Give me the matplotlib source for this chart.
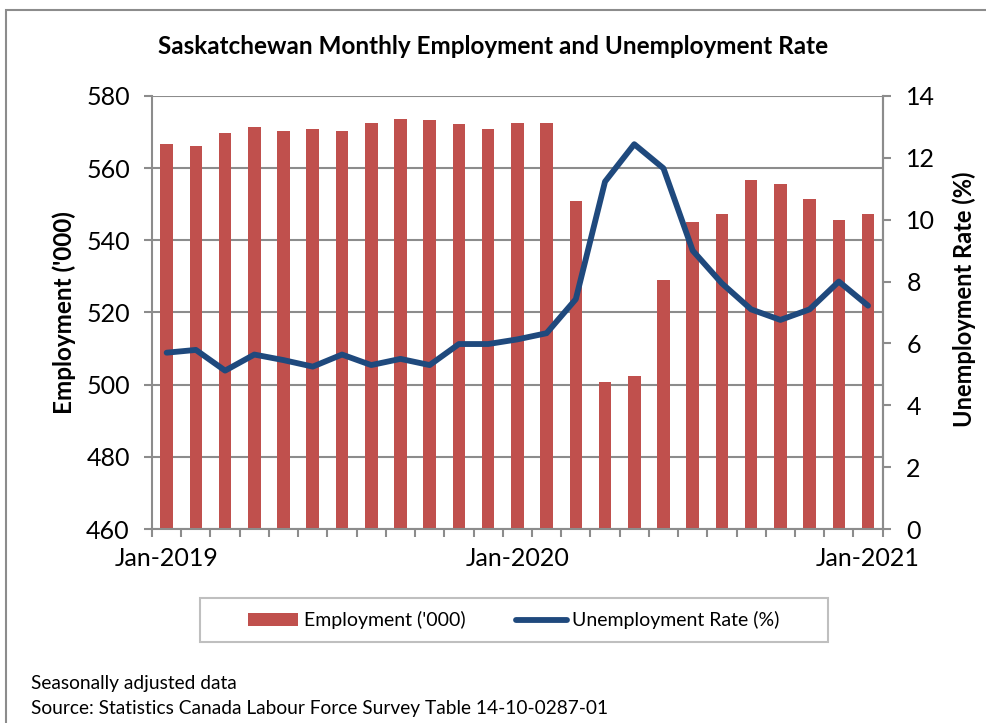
import numpy as np
import matplotlib.pyplot as plt
from matplotlib.patches import Rectangle, Patch
from matplotlib.lines import Line2D

plt.rcParams['font.family'] = ['Lato', 'DejaVu Sans']

months = ['Jan-2019', 'Feb-2019', 'Mar-2019', 'Apr-2019', 'May-2019', 'Jun-2019',
          'Jul-2019', 'Aug-2019', 'Sep-2019', 'Oct-2019', 'Nov-2019', 'Dec-2019',
          'Jan-2020', 'Feb-2020', 'Mar-2020', 'Apr-2020', 'May-2020', 'Jun-2020',
          'Jul-2020', 'Aug-2020', 'Sep-2020', 'Oct-2020', 'Nov-2020', 'Dec-2020',
          'Jan-2021']
employment = [566.7, 566.0, 569.6, 571.3, 570.2, 570.8, 570.2, 572.5, 573.7, 573.2,
              572.1, 570.9, 572.5, 572.5, 550.8, 500.7, 502.4, 529.0, 545.0, 547.3,
              556.8, 555.6, 551.5, 545.5, 547.3]
unemp_rate = [5.70, 5.79, 5.12, 5.64, 5.46, 5.25, 5.64, 5.30, 5.50, 5.30,
              5.98, 5.98, 6.13, 6.33, 7.43, 11.23, 12.44, 11.66, 9.0, 7.94,
              7.10, 6.76, 7.10, 8.0, 7.22]
shown_labels = {0: 'Jan-2019', 12: 'Jan-2020', 24: 'Jan-2021'}

bar_color = '#C0504D'
line_color = '#1F497D'
grid_color = '#8C8C8C'

fig = plt.figure(figsize=(9.86, 7.23), dpi=100)
ax = fig.add_axes([0.1542, 0.2683, 0.741, 0.599])

x = np.arange(len(months))
ax.bar(x, employment, width=0.43, color=bar_color, zorder=2)
ax.set_xlim(-0.5, len(months) - 0.5)
ax.set_ylim(460, 580)
ax.set_yticks(np.arange(460, 581, 20))
ax.yaxis.grid(True, color=grid_color, linewidth=1.5, zorder=0)
ax.set_axisbelow(True)

# ticks between categories, labels only at January
ax.set_xticks(np.arange(-0.5, len(months), 1))
ax.set_xticklabels([])
ax.set_xticks(list(shown_labels.keys()), minor=True)
ax.set_xticklabels(list(shown_labels.values()), minor=True)
ax.tick_params(axis='x', which='minor', length=0, pad=13, labelsize=18)
ax.tick_params(axis='x', which='major', length=6, width=1.5, color=grid_color)
ax.tick_params(axis='y', length=6, width=1.5, color=grid_color, labelsize=18, pad=10)

ax.spines['top'].set_visible(False)
for s in ['left', 'bottom', 'right']:
    ax.spines[s].set_color(grid_color)
    ax.spines[s].set_linewidth(1.5)

ax.set_ylabel("Employment ('000)", fontsize=17.5, fontweight='bold', labelpad=7)

ax2 = ax.twinx()
ax2.plot(x, unemp_rate, color=line_color, linewidth=4.2, zorder=3,
         solid_joinstyle='round', solid_capstyle='round')
ax2.set_ylim(0, 14)
ax2.set_yticks(np.arange(0, 15, 2))
ax2.tick_params(axis='y', length=6, width=1.5, color=grid_color, labelsize=18, pad=11)
for s in ['top', 'left', 'bottom']:
    ax2.spines[s].set_visible(False)
ax2.spines['right'].set_color(grid_color)
ax2.spines['right'].set_linewidth(1.5)
ax2.set_ylabel('Unemployment Rate (%)', fontsize=17, fontweight='bold',
               rotation=90, labelpad=12)
ax2.yaxis.set_label_coords(1.095, 0.53)

fig.text(0.5, 0.935, 'Saskatchewan Monthly Employment and Unemployment Rate',
         ha='center', va='center', fontsize=17.5, fontweight='bold')

handles = [Patch(facecolor=bar_color, edgecolor='none'),
           Line2D([0], [0], color=line_color, linewidth=4.2, solid_capstyle='round')]
leg = fig.legend(handles, ["Employment ('000)", 'Unemployment Rate (%)'],
                 loc='center', bbox_to_anchor=(0.521, 0.142), ncol=2,
                 fontsize=14, frameon=False, borderpad=0.6,
                 handlelength=2.6, columnspacing=2.6, handletextpad=0.3,
                 borderaxespad=0)
# legend box, wider than matplotlib's own frame
fig.patches.append(Rectangle((0.203, 0.112), 0.637, 0.061, transform=fig.transFigure,
                             fill=False, edgecolor='#BFBFBF', linewidth=1.5))

fig.text(0.031, 0.055, 'Seasonally adjusted data', fontsize=13.8, va='center')
fig.text(0.031, 0.02, 'Source: Statistics Canada Labour Force Survey Table 14-10-0287-01',
         fontsize=13.8, va='center')

fig.patches.append(Rectangle((0.006, -0.1), 1.2, 1.086, transform=fig.transFigure,
                             fill=False, edgecolor='#8C8C8C', linewidth=1.5))

fig.savefig('out.png', dpi=100)
